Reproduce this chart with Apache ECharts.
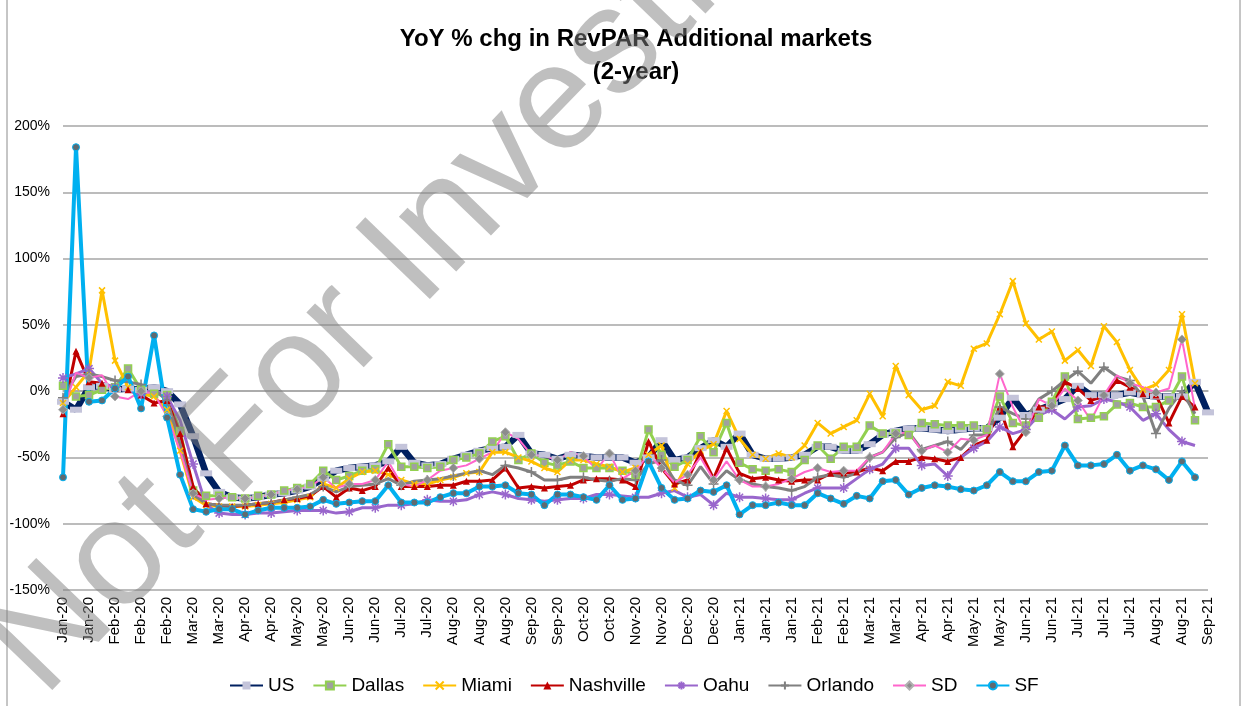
<!DOCTYPE html>
<html>
<head>
<meta charset="utf-8">
<script src="https://cdn.jsdelivr.net/npm/echarts@6/dist/echarts.min.js"></script>
<style>
  html, body { margin: 0; padding: 0; background: #fff; }
  #chart { width: 1250px; height: 706px; }
</style>
</head>
<body>
<div id="chart"></div>
<script>
// weekly categories, Jan-20 .. Sep-21
const weeks = [
  'Jan-20','Jan-20','Jan-20','Jan-20',
  'Feb-20','Feb-20','Feb-20','Feb-20','Feb-20',
  'Mar-20','Mar-20','Mar-20','Mar-20',
  'Apr-20','Apr-20','Apr-20','Apr-20',
  'May-20','May-20','May-20','May-20','May-20',
  'Jun-20','Jun-20','Jun-20','Jun-20',
  'Jul-20','Jul-20','Jul-20','Jul-20',
  'Aug-20','Aug-20','Aug-20','Aug-20','Aug-20',
  'Sep-20','Sep-20','Sep-20','Sep-20',
  'Oct-20','Oct-20','Oct-20','Oct-20','Oct-20',
  'Nov-20','Nov-20','Nov-20','Nov-20',
  'Dec-20','Dec-20','Dec-20','Dec-20',
  'Jan-21','Jan-21','Jan-21','Jan-21','Jan-21',
  'Feb-21','Feb-21','Feb-21','Feb-21',
  'Mar-21','Mar-21','Mar-21','Mar-21',
  'Apr-21','Apr-21','Apr-21','Apr-21',
  'May-21','May-21','May-21','May-21','May-21',
  'Jun-21','Jun-21','Jun-21','Jun-21',
  'Jul-21','Jul-21','Jul-21','Jul-21','Jul-21',
  'Aug-21','Aug-21','Aug-21','Aug-21',
  'Sep-21','Sep-21'
]

// YoY % change (vs 2019)
const us = [-8,-14,3,4,1,2,1,3,0,-10,
  -34,-62,-76,-80,-81,-80,-78,-77,-75,-72,
  -66,-60,-58,-57,-56,-53,-42,-54,-56,-55,
  -51,-48,-45,-43,-42,-33,-47,-48,-51,-48,
  -49,-50,-50,-50,-54,-50,-37,-52,-50,-43,
  -37,-42,-32,-48,-51,-51,-50,-48,-42,-42,
  -45,-45,-40,-33,-30,-28,-28,-29,-30,-29,
  -28,-28,-20,-5,-18,-14,-10,-6,4,-3,
  -3,-3,-1,-3,-4,-4,-4,7,-16]
const dallas = [4,-4,-3,1,3,17,1,-2,-3,-30,
  -75,-79,-79,-80,-81,-79,-78,-75,-73,-70,
  -60,-67,-64,-60,-59,-40,-57,-57,-58,-57,
  -52,-50,-47,-38,-34,-52,-47,-54,-56,-53,
  -58,-58,-58,-60,-63,-29,-48,-57,-52,-34,
  -46,-24,-54,-59,-60,-59,-61,-52,-41,-51,
  -42,-42,-26,-32,-32,-33,-24,-25,-26,-26,
  -26,-29,-4,-24,-26,-20,-8,11,-21,-20,
  -19,-10,-9,-12,-12,-7,11,-22]
const miami = [-9,3,15,76,23,3,-2,-4,-14,-45,
  -80,-86,-87,-87,-87,-86,-85,-84,-82,-80,
  -70,-73,-66,-61,-60,-63,-67,-70,-70,-67,
  -65,-62,-61,-46,-46,-50,-53,-58,-61,-52,
  -52,-55,-57,-61,-58,-48,-41,-73,-55,-45,
  -40,-15,-36,-48,-51,-47,-50,-41,-24,-32,
  -27,-22,-2,-19,19,-3,-14,-11,7,4,
  32,36,58,83,51,39,45,23,31,19,
  49,37,16,1,5,16,58,6]
const nashville = [-17,30,7,6,2,1,-3,-9,-7,-32,
  -72,-85,-86,-87,-86,-85,-84,-82,-81,-79,
  -72,-80,-73,-75,-72,-58,-72,-72,-72,-71,
  -71,-68,-68,-67,-58,-73,-72,-73,-72,-71,
  -67,-66,-66,-67,-72,-38,-58,-70,-67,-46,
  -66,-43,-62,-66,-65,-67,-68,-67,-67,-62,
  -62,-61,-58,-60,-53,-53,-50,-51,-53,-50,
  -41,-37,-12,-42,-29,-12,-12,7,2,-7,
  -4,8,3,-2,-3,-24,-4,-12]
const oahu = [10,13,17,6,3,0,-2,1,-4,-22,
  -55,-86,-92,-93,-93,-92,-92,-91,-90,-90,
  -90,-92,-91,-88,-88,-86,-86,-85,-82,-83,
  -83,-82,-78,-76,-78,-81,-82,-83,-82,-81,
  -81,-78,-78,-79,-80,-80,-77,-75,-80,-78,
  -86,-77,-80,-80,-81,-82,-82,-77,-73,-73,
  -73,-66,-59,-55,-43,-43,-56,-55,-64,-50,
  -43,-38,-27,-32,-29,-18,-14,-21,-12,-11,
  -6,-8,-12,-22,-17,-29,-38,-41]
const orlando = [-5,11,13,11,8,7,5,1,-7,-40,
  -78,-85,-86,-86,-86,-85,-84,-82,-80,-78,
  -72,-76,-72,-71,-70,-66,-71,-68,-67,-66,
  -64,-62,-60,-63,-56,-58,-61,-67,-67,-65,
  -65,-67,-68,-66,-67,-55,-52,-67,-71,-57,
  -70,-60,-67,-70,-72,-73,-75,-72,-65,-63,
  -65,-62,-50,-46,-35,-31,-44,-41,-38,-44,
  -33,-33,-12,-17,-21,-6,0,8,15,6,
  18,11,8,-4,-32,-13,0,-17]
const sd = [-14,14,10,12,-4,-6,0,-2,-19,-45,
  -77,-82,-81,-80,-81,-80,-78,-75,-74,-72,
  -65,-73,-70,-70,-67,-53,-70,-72,-67,-60,
  -58,-56,-51,-46,-31,-36,-48,-49,-52,-46,
  -49,-59,-47,-66,-60,-48,-58,-69,-63,-50,
  -67,-53,-67,-72,-72,-70,-66,-61,-58,-61,
  -60,-60,-50,-46,-32,-31,-45,-41,-46,-36,
  -37,-33,13,-12,-31,-6,-11,2,-7,-22,
  -3,12,6,3,-1,2,39,-13]
const sf = [-65,184,-8,-7,2,11,-13,42,-20,-63,
  -89,-91,-89,-89,-93,-90,-88,-88,-88,-87,
  -82,-85,-84,-83,-83,-71,-84,-84,-84,-80,
  -77,-77,-72,-72,-71,-77,-78,-86,-78,-78,
  -80,-82,-71,-82,-81,-53,-73,-82,-81,-75,
  -76,-71,-93,-86,-86,-84,-86,-86,-77,-81,
  -85,-79,-81,-68,-67,-78,-73,-71,-72,-74,
  -75,-71,-61,-68,-68,-61,-60,-41,-56,-56,
  -55,-48,-60,-56,-59,-67,-53,-65]

const FONT = 'Liberation Sans'

// marker shapes like the excel ones
const xMark = 'path://M0 0L10 10M10 0L0 10'
const plusMark = 'path://M5 0L5 10M0 5L10 5'
const starMark = 'path://M5 0L5 10M0 5L10 5M1.5 1.5L8.5 8.5M8.5 1.5L1.5 8.5'

function line(name, data, color, width, symbol, size, itemStyle) {
  return {
    name: name,
    type: 'line',
    data: data,
    symbol: symbol,
    symbolSize: size,
    lineStyle: { color: color, width: width },
    itemStyle: itemStyle,
    emphasis: { disabled: true },
    animation: false
  }
}

const myChart = echarts.init(document.getElementById('chart'))

const options = {
  backgroundColor: '#fff',
  title: {
    text: 'YoY % chg in RevPAR Additional markets\n(2-year)',
    left: 631,
    top: 18,
    textAlign: 'center',
    textStyle: { fontFamily: FONT, fontSize: 24, fontWeight: 'bold', color: '#000', lineHeight: 33 }
  },
  legend: {
    top: 671,
    left: 224,
    itemWidth: 33,
    itemHeight: 10,
    itemGap: 18,
    textStyle: { fontFamily: FONT, fontSize: 19, color: '#000' },
    data: ['US', 'Dallas', 'Miami', 'Nashville', 'Oahu', 'Orlando', 'SD', 'SF']
  },
  grid: { left: 63, right: 42, top: 126, bottom: 116, containLabel: false },
  xAxis: {
    type: 'category',
    data: weeks,
    boundaryGap: false,
    axisLine: { lineStyle: { color: '#a6a6a6', width: 1.5 } },
    axisTick: { show: false },
    axisLabel: {
      interval: 1,
      rotate: 90,
      margin: 7,
      fontFamily: FONT,
      fontSize: 15,
      color: '#000'
    }
  },
  yAxis: {
    type: 'value',
    min: -150,
    max: 200,
    interval: 50,
    axisLine: { show: false },
    axisTick: { show: false },
    axisLabel: { formatter: '{value}%', margin: 13, fontFamily: FONT, fontSize: 14, color: '#000' },
    splitLine: { lineStyle: { color: '#a6a6a6', width: 1.5 } }
  },
  series: [
    line('US', us, '#002060', 6.5, 'rect', [12, 6], { color: '#c4c4da' }),
    line('Dallas', dallas, '#92d050', 3, 'rect', 7, { color: '#a0a0a0', borderColor: '#92d050', borderWidth: 1.5 }),
    line('Miami', miami, '#ffc000', 3, xMark, 6, { color: '#ffc000', borderColor: '#ffc000', borderWidth: 1.5 }),
    line('Nashville', nashville, '#c00000', 3, 'triangle', 7, { color: '#c00000' }),
    line('Oahu', oahu, '#9966cc', 3, starMark, 10, { color: '#9966cc', borderColor: '#9966cc', borderWidth: 1.5 }),
    line('Orlando', orlando, '#808080', 3, plusMark, 10, { color: '#808080', borderColor: '#808080', borderWidth: 1.5 }),
    line('SD', sd, '#ff66cc', 2, 'diamond', 9, { color: '#8c8c8c', borderColor: '#b0b0b0', borderWidth: 1 }),
    line('SF', sf, '#00b0f0', 4, 'circle', 7, { color: '#606a70', borderColor: '#00b0f0', borderWidth: 1 })
  ],
  graphic: [
    {
      type: 'rect',
      shape: { x: 7, y: -2, width: 1233, height: 710 },
      style: { fill: 'none', stroke: '#8c8c8c', lineWidth: 1 },
      silent: true
    },
    {
      // watermark
      type: 'text',
      x: 68,
      y: 722,
      rotation: 46 * Math.PI / 180,
      z: 100,
      silent: true,
      style: {
        text: 'Not For Investment',
        fontFamily: FONT,
        fontSize: 150,
        fill: 'rgba(128,128,128,0.5)',
        textAlign: 'left',
        textVerticalAlign: 'bottom'
      }
    }
  ]
}

myChart.setOption(options)
</script>
</body>
</html>
